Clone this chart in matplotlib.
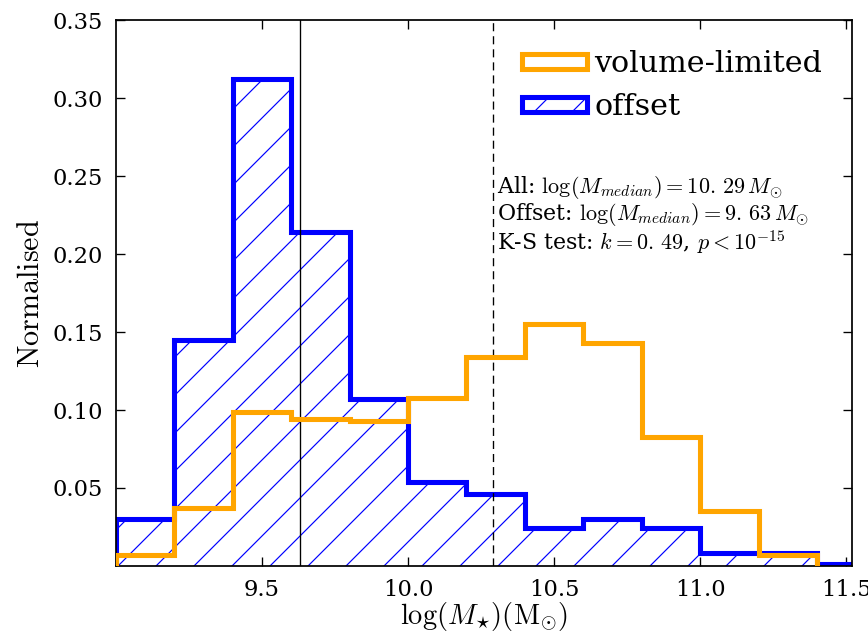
import numpy as np
import matplotlib
matplotlib.use('Agg')
import matplotlib.pyplot as plt

plt.rcParams['font.family'] = 'DejaVu Serif'
plt.rcParams['mathtext.fontset'] = 'cm'
plt.rcParams['hatch.linewidth'] = 0.75

# stellar mass bins (log M)
edges_all = np.arange(9.0, 11.41, 0.2)
edges_off = np.arange(9.0, 11.61, 0.2)

# normalised fractions per bin
frac_all = [0.007, 0.037, 0.099, 0.094, 0.093, 0.108, 0.134, 0.155, 0.143, 0.083, 0.035, 0.007]
frac_off = [0.030, 0.145, 0.312, 0.214, 0.107, 0.054, 0.046, 0.024, 0.030, 0.024, 0.008, 0.008, 0.001]

med_all = 10.29
med_off = 9.63

DPI = 114
fig = plt.figure(figsize=(868/DPI, 633/DPI), dpi=DPI)
ax = fig.add_axes([0.1336, 0.106, 0.848, 0.862])

cen_all = 0.5*(edges_all[1:] + edges_all[:-1])
cen_off = 0.5*(edges_off[1:] + edges_off[:-1])

ax.hist(cen_off, bins=edges_off, weights=frac_off, histtype='step', color='blue',
        lw=3.2, hatch='/', label='offset', zorder=2)
ax.hist(cen_all, bins=edges_all, weights=frac_all, histtype='step', color='orange',
        lw=3.2, label='volume-limited', zorder=3)

ax.axvline(med_off, color='k', lw=0.85)
ax.axvline(med_all, color='k', lw=0.85, ls=(0, (6, 3.7)))

ax.set_xlim(9.0, 11.52)
ax.set_ylim(0, 0.35)
ax.set_xticks([9.5, 10.0, 10.5, 11.0, 11.5])
ax.set_yticks([0.05, 0.10, 0.15, 0.20, 0.25, 0.30, 0.35])
ax.tick_params(direction='in', top=True, right=True, labelsize=14.3, length=5.6, width=0.85, pad=8)
for s in ax.spines.values():
    s.set_linewidth(1.1)

ax.set_xlabel(r'$\log(M_{\star})(\mathrm{M}_{\odot})$', fontsize=18, labelpad=-0.5)
ax.set_ylabel(r'$\mathrm{Normalised}$', fontsize=19, labelpad=5)

txt = (r'All: $\log(M_{median})=10.\,29\,M_{\odot}$' + '\n' +
       r'Offset: $\log(M_{median})=9.\,63\,M_{\odot}$' + '\n' +
       r'K-S test: $k=0.\,49$, $p<10^{-15}$')
ax.text(0.518, 0.718, txt, transform=ax.transAxes, fontsize=14, va='top', ha='left',
        linespacing=1.0)

h, l = ax.get_legend_handles_labels()
ax.legend(h[::-1], l[::-1], loc='upper right', frameon=False, fontsize=19,
          handlelength=2.15, handleheight=0.4, handletextpad=0.23, labelspacing=0.5,
          borderaxespad=0.6)

fig.savefig('out.png', dpi=DPI)
